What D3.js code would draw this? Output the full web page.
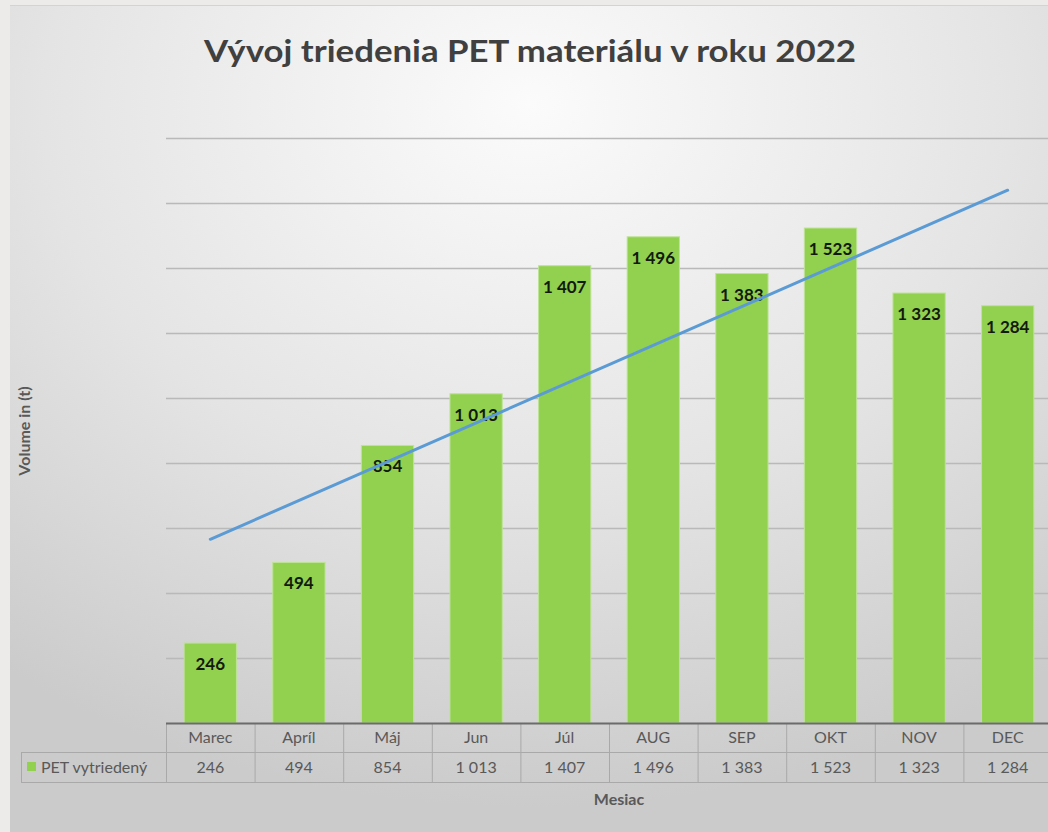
<!DOCTYPE html>
<html lang="sk">
<head>
<meta charset="utf-8">
<title>Vývoj triedenia PET materiálu v roku 2022</title>
<script src="https://cdn.jsdelivr.net/npm/d3@7/dist/d3.min.js"></script>
<style>
  html, body { margin: 0; padding: 0; background: #ecebe9; }
  svg { display: block; }
  text { font-family: Lato, "Open Sans", "DejaVu Sans", sans-serif; }
</style>
</head>
<body>
<div id="chart"></div>
<script>
// Monthly sorted PET volume (t), 2022
const months = ["Marec", "Apríl", "Máj", "Jun", "Júl", "AUG", "SEP", "OKT", "NOV", "DEC"];
const values = [246, 494, 854, 1013, 1407, 1496, 1383, 1523, 1323, 1284];
const yTicks = [200, 400, 600, 800, 1000, 1200, 1400, 1600, 1800];
const seriesName = "PET vytriedený";
const chartTitle = "Vývoj triedenia PET materiálu v roku 2022";
const xTitle = "Mesiac";
const yTitle = "Volume in (t)";

const W = 1048, H = 832;
const plot = { left: 166, right: 1052, top: 138, bottom: 723 };
const rowH = [29, 30];            // data table rows: categories, values
const legendLeft = 21;

// Slovak number format: space as thousands separator
const fmt = v => d3.format(",")(v).replace(/,/g, " ");

const svg = d3.select("#chart").append("svg")
  .attr("width", W).attr("height", H);

const defs = svg.append("defs");
const grad = defs.append("radialGradient")
  .attr("id", "bg").attr("cx", "50%").attr("cy", "12%").attr("r", "85%")
  .attr("fx", "50%").attr("fy", "12%");
grad.append("stop").attr("offset", "0%").attr("stop-color", "#fbfbfb");
grad.append("stop").attr("offset", "55%").attr("stop-color", "#e4e4e4");
grad.append("stop").attr("offset", "100%").attr("stop-color", "#cbcbcb");

// chart panel
svg.append("rect").attr("x", 10).attr("y", 5).attr("width", W - 10).attr("height", H - 5)
  .attr("fill", "url(#bg)");
svg.append("line").attr("x1", 10).attr("x2", W).attr("y1", 5.5).attr("y2", 5.5)
  .attr("stroke", "#d3d3d3").attr("stroke-width", 1);

const x = d3.scaleBand().domain(months).range([plot.left, plot.right])
  .paddingInner(0.41).paddingOuter(0.205);
const xCol = d3.scaleBand().domain(months).range([plot.left, plot.right]);
const y = d3.scaleLinear().domain([0, 1800]).range([plot.bottom, plot.top]);

// horizontal gridlines
const gridAxis = d3.axisLeft(y).tickValues(yTicks)
  .tickSize(-(plot.right - plot.left)).tickFormat("");
const grid = svg.append("g").attr("transform", `translate(${plot.left},0)`).call(gridAxis);
grid.select(".domain").remove();
grid.selectAll(".tick line").attr("stroke", "#b9b9b9").attr("stroke-width", 1.4);

// bars
svg.append("g").selectAll("rect").data(values).join("rect")
  .attr("x", (d, i) => x(months[i]))
  .attr("y", d => y(d))
  .attr("width", x.bandwidth())
  .attr("height", d => y(0) - y(d))
  .attr("fill", "#92d050")
  .attr("stroke", "#bde395").attr("stroke-width", 1);

// data labels inside bar ends
svg.append("g").selectAll("text").data(values).join("text")
  .attr("x", (d, i) => x(months[i]) + x.bandwidth() / 2)
  .attr("y", d => y(d) + 27)
  .attr("text-anchor", "middle")
  .attr("font-size", 17).attr("font-weight", 700)
  .attr("fill", "#121a0c")
  .text(d => fmt(d));

// linear trendline (least squares over the month index)
const n = values.length;
const mx = d3.mean(values, (d, i) => i), my = d3.mean(values);
const slope = d3.sum(values, (d, i) => (i - mx) * (d - my)) / d3.sum(values, (d, i) => (i - mx) ** 2);
const icpt = my - slope * mx;
const trend = [0, n - 1].map(i => [x(months[i]) + x.bandwidth() / 2, y(icpt + slope * i)]);
svg.append("path").attr("d", d3.line()(trend))
  .attr("fill", "none").attr("stroke", "#5b9bd5").attr("stroke-width", 3)
  .attr("stroke-linecap", "round");

// data table below the axis
const tbl = svg.append("g");
const y0 = plot.bottom, y1 = y0 + rowH[0], y2 = y1 + rowH[1];
const lineC = "#a9a9a9";
// column separators
tbl.selectAll("line.col").data(months).join("line")
  .attr("x1", d => xCol(d) + 0.5).attr("x2", d => xCol(d) + 0.5)
  .attr("y1", y0).attr("y2", y2).attr("stroke", lineC).attr("stroke-width", 1);
// row lines
tbl.append("line").attr("x1", legendLeft).attr("x2", W).attr("y1", y1 + 0.5).attr("y2", y1 + 0.5)
  .attr("stroke", lineC);
tbl.append("line").attr("x1", legendLeft).attr("x2", W).attr("y1", y2 + 0.5).attr("y2", y2 + 0.5)
  .attr("stroke", lineC);
tbl.append("line").attr("x1", legendLeft + 0.5).attr("x2", legendLeft + 0.5).attr("y1", y1).attr("y2", y2)
  .attr("stroke", lineC);
// category axis line
svg.append("line").attr("x1", plot.left).attr("x2", W).attr("y1", y0 + 0.5).attr("y2", y0 + 0.5)
  .attr("stroke", "#6b6b6b").attr("stroke-width", 2);

// category labels
tbl.selectAll("text.cat").data(months).join("text")
  .attr("class", "cat")
  .attr("x", d => xCol(d) + xCol.bandwidth() / 2)
  .attr("y", y0 + 20)
  .attr("text-anchor", "middle").attr("font-size", 16).attr("fill", "#595959")
  .text(d => d);
// value cells
tbl.selectAll("text.val").data(values).join("text")
  .attr("class", "val")
  .attr("x", (d, i) => xCol(months[i]) + xCol.bandwidth() / 2)
  .attr("y", y1 + 21)
  .attr("text-anchor", "middle").attr("font-size", 16).attr("fill", "#595959")
  .text(d => fmt(d));
// legend key + series name
tbl.append("rect").attr("x", 27).attr("y", y1 + 10).attr("width", 9).attr("height", 9)
  .attr("fill", "#92d050");
tbl.append("text").attr("x", 41).attr("y", y1 + 21)
  .attr("font-size", 16).attr("fill", "#595959").text(seriesName);

// titles
svg.append("text").attr("x", 530).attr("y", 62)
  .attr("text-anchor", "middle").attr("font-size", 30).attr("font-weight", 700)
  .attr("fill", "#404040")
  .attr("textLength", 652).attr("lengthAdjust", "spacingAndGlyphs")
  .text(chartTitle);
svg.append("text").attr("x", 619).attr("y", 805)
  .attr("text-anchor", "middle").attr("font-size", 16).attr("font-weight", 700)
  .attr("fill", "#595959").text(xTitle);
svg.append("text").attr("transform", "translate(30,431) rotate(-90)")
  .attr("text-anchor", "middle").attr("font-size", 16).attr("font-weight", 700)
  .attr("fill", "#595959").text(yTitle);
</script>
</body>
</html>
